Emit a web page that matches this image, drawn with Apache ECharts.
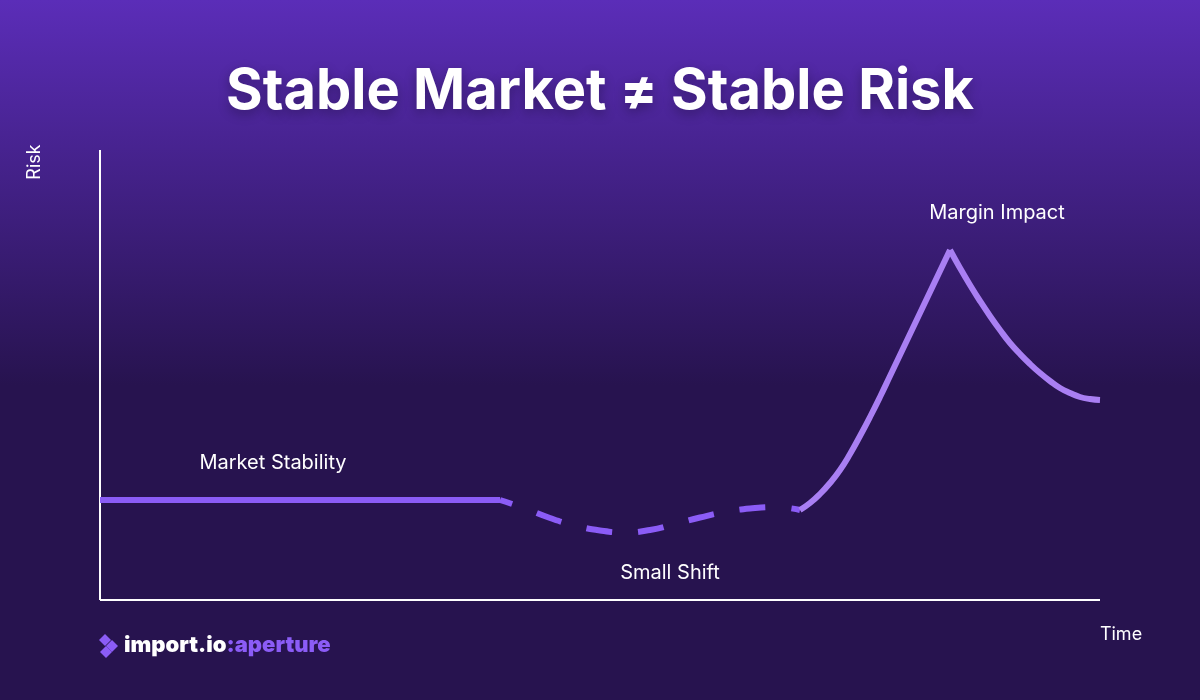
<!DOCTYPE html>
<html>
<head>
<meta charset="utf-8">
<style>html,body{margin:0;padding:0;background:#27134f}#c{width:1200px;height:700px}</style>
<script src="https://cdn.jsdelivr.net/npm/echarts@6/dist/echarts.min.js"></script>
</head>
<body>
<div id="c"></div>
<script>
// Risk level over time, in three phases.
const stableTime = [0, 400];
const stableRisk = [100, 100];
const shiftTime = [400, 425, 450, 475, 500, 525, 550, 575, 600, 625, 650, 675, 700];
const shiftRisk = [100, 91.5, 82, 74.5, 69.5, 67.5, 70, 76, 82.5, 88, 91.5, 93, 90];
const riseTime = [700, 710, 720, 730, 740, 750, 760, 770, 780, 790, 800, 810, 820, 830, 840, 850];
const riseRisk = [90, 97, 106, 117, 130, 146, 164, 183, 203, 224, 245, 266, 287, 308, 329, 350];
const fallTime = [850, 860, 870, 880, 890, 900, 910, 920, 930, 940, 950, 960, 970, 980, 990, 1000];
const fallRisk = [350, 332, 315, 299, 284, 270, 257, 246, 236, 227, 219, 212, 207, 203, 201, 200];
const noteText = ['Market Stability', 'Small Shift', 'Margin Impact'];
const noteTime = [173, 570, 897];
const noteRisk = [137, 27, 387];

const pairs = (xs, ys) => xs.map((x, i) => [x, ys[i]]);
const FONT = 'Inter';
const chart = echarts.init(document.getElementById('c'), null, { renderer: 'canvas' });

// Three rhombi forming the brand mark.
const rhombus = (cx, cy) => ({
  type: 'polygon',
  shape: { points: [[cx - 6, cy], [cx, cy - 6], [cx + 6, cy], [cx, cy + 6]] },
  style: { fill: '#8B5CF6' }
});

const axisCaption = (text, x, y, rotation) => ({
  type: 'text', x, y, rotation,
  style: {
    text, fill: '#FFFFFF', font: '18px ' + FONT,
    align: 'center', verticalAlign: 'middle'
  }
});

chart.setOption({
  animation: false,
  backgroundColor: new echarts.graphic.LinearGradient(0, 0, 0, 1, [
    { offset: 0, color: '#5B2DB8' },
    { offset: 0.55, color: '#27134F' },
    { offset: 1, color: '#27134F' }
  ]),
  title: {
    text: 'Stable Market ≠ Stable Risk',
    left: 'center',
    top: 59,
    textStyle: {
      color: '#FFFFFF', fontFamily: FONT, fontSize: 56, fontWeight: 700,
      textShadowColor: 'rgba(0,0,0,0.3)', textShadowBlur: 12, textShadowOffsetY: 4
    }
  },
  grid: { left: 100, right: 100, top: 150, bottom: 100 },
  xAxis: {
    type: 'value', min: 0, max: 1000,
    axisLine: { show: true, lineStyle: { color: '#FFFFFF', width: 2, cap: 'butt' } },
    axisTick: { show: false }, axisLabel: { show: false }, splitLine: { show: false }
  },
  yAxis: {
    type: 'value', min: 0, max: 450,
    axisLine: { show: true, onZero: false, lineStyle: { color: '#FFFFFF', width: 2, cap: 'butt' } },
    axisTick: { show: false }, axisLabel: { show: false }, splitLine: { show: false }
  },
  series: [
    {
      name: 'Stable', type: 'line', showSymbol: false, data: pairs(stableTime, stableRisk),
      lineStyle: { color: '#8B5CF6', width: 6, cap: 'butt' }
    },
    {
      name: 'Shift', type: 'line', showSymbol: false, smooth: true, data: pairs(shiftTime, shiftRisk),
      lineStyle: { color: '#8B5CF6', width: 6, cap: 'butt', type: [26, 26], dashOffset: 13 }
    },
    {
      name: 'Rise', type: 'line', showSymbol: false, smooth: true, data: pairs(riseTime, riseRisk),
      lineStyle: { color: '#A97FF3', width: 6, cap: 'butt' }
    },
    {
      name: 'Fall', type: 'line', showSymbol: false, smooth: true, data: pairs(fallTime, fallRisk),
      lineStyle: { color: '#A97FF3', width: 6, cap: 'butt' }
    },
    {
      name: 'Notes', type: 'scatter', symbolSize: 0, silent: true,
      itemStyle: { opacity: 1 },
      data: noteText.map((t, i) => ({ name: t, value: [noteTime[i], noteRisk[i]] })),
      label: {
        show: true, position: 'inside', formatter: '{b}', opacity: 1,
        color: '#FFFFFF', fontFamily: FONT, fontSize: 20
      }
    }
  ],
  graphic: [
    rhombus(105, 640), rhombus(112, 646), rhombus(106, 652),
    axisCaption('Risk', 35, 162, Math.PI / 2),
    axisCaption('Time', 1121, 635, 0),
    {
      type: 'text', left: 124, top: 634,
      style: {
        text: '{w|import.io}{p|:aperture}',
        rich: {
          w: { fill: '#FFFFFF', fontFamily: FONT, fontSize: 22, fontWeight: 900 },
          p: { fill: '#8B5CF6', fontFamily: FONT, fontSize: 22, fontWeight: 900 }
        }
      }
    }
  ]
});
</script>
</body>
</html>
